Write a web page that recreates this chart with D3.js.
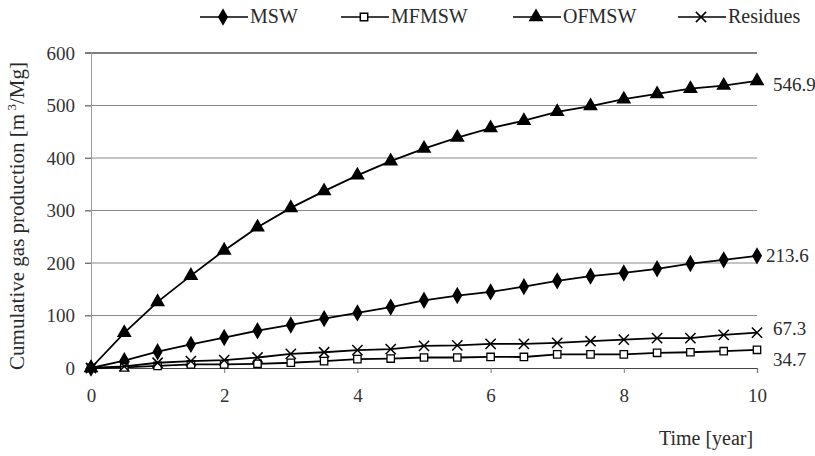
<!DOCTYPE html>
<html>
<head>
<meta charset="utf-8">
<script src="https://cdn.jsdelivr.net/npm/d3@7"></script>
<style>
  body { margin: 0; background: #fff; }
  svg text { font-family: "Liberation Serif", "DejaVu Serif", serif; fill: #2a2a2a; }
</style>
</head>
<body>
<div id="chart"></div>
<script>
// time axis, every half year
var years = [0, 0.5, 1, 1.5, 2, 2.5, 3, 3.5, 4, 4.5, 5, 5.5, 6, 6.5, 7, 7.5, 8, 8.5, 9, 9.5, 10];

// cumulative gas production [m3/Mg]
var msw = [0, 14, 31, 45, 58, 71, 82, 94, 105, 116, 129, 138, 145, 155, 166, 175, 181, 189, 199, 206, 213.6];
var mfmsw = [0, 1, 4, 7, 7, 8, 10, 13, 17, 18, 20, 20, 21, 21, 26, 26, 26, 29, 30, 32, 34.7];
var ofmsw = [0, 67, 126, 176, 224, 268, 305, 337, 367, 394, 418, 439, 457, 471, 488, 499, 512, 522, 532, 538, 546.9];
var residues = [0, 3, 10, 13, 15, 20, 27, 30, 34, 36, 42, 43, 46, 46, 48, 51, 54, 57, 57, 63, 67.3];

var seriesNames = ["MSW", "MFMSW", "OFMSW", "Residues"];
var endLabels = ["213.6", "34.7", "546.9", "67.3"];
var yTicks = [0, 100, 200, 300, 400, 500, 600];
var xTicks = [0, 2, 4, 6, 8, 10];

var series = [
    { name: seriesNames[0], values: msw, symbol: d3.symbolDiamond, size: 60, fill: "#000", label: endLabels[0], dx: 9, dy: 2 },
    { name: seriesNames[1], values: mfmsw, symbol: d3.symbolSquare, size: 55, fill: "#fff", label: endLabels[1], dx: 16, dy: 12 },
    { name: seriesNames[2], values: ofmsw, symbol: d3.symbolTriangle, size: 65, fill: "#000", label: endLabels[2], dx: 16, dy: 6 },
    { name: seriesNames[3], values: residues, symbol: d3.symbolX, size: 70, fill: "none", label: endLabels[3], dx: 16, dy: -2 }
];

var width = 815, height = 456;
var margin = { top: 53, right: 58, bottom: 88, left: 91 };
var w = width - margin.left - margin.right,
    h = height - margin.top - margin.bottom;
var serif = "'Liberation Serif', 'DejaVu Serif', serif";

var xScale = d3.scaleLinear().domain([0, 10]).range([0, w]);
var yScale = d3.scaleLinear().domain([0, 600]).range([h, 0]);

var svg = d3.select("#chart").append("svg")
    .attr("width", width)
    .attr("height", height);

var g = svg.append("g")
    .attr("transform", "translate(" + margin.left + "," + margin.top + ")");

// horizontal gridlines
g.selectAll(".grid")
    .data(yTicks.filter(function (d) { return d > 0; }))
    .enter().append("line")
    .attr("x1", -6).attr("x2", w)
    .attr("y1", function (d) { return yScale(d); })
    .attr("y2", function (d) { return yScale(d); })
    .style("stroke", function (d) { return d === 600 ? "#555" : "#8a8a8a"; })
    .style("stroke-width", function (d) { return d === 600 ? 1.4 : 1; });

// y axis
var yAxis = d3.axisLeft(yScale).tickValues(yTicks).tickSize(6).tickPadding(10);
var yNode = g.append("g").call(yAxis).attr("font-family", serif);
yNode.select(".domain").style("stroke", "#999");
yNode.selectAll(".tick line").style("stroke", "#777");
yNode.selectAll("text").style("font-family", serif).style("font-size", "19px").style("fill", "#333");

// x axis
var xAxis = d3.axisBottom(xScale).tickValues(xTicks).tickSize(5).tickPadding(16);
var xNode = g.append("g").attr("transform", "translate(0," + h + ")").call(xAxis).attr("font-family", serif);
xNode.select(".domain").style("stroke", "#444").style("stroke-width", 1.2);
xNode.selectAll(".tick line").style("stroke", "#777");
xNode.selectAll("text").style("font-family", serif).style("font-size", "19px").style("fill", "#333");

// axis titles
svg.append("text")
    .attr("transform", "translate(24,216) rotate(-90)")
    .attr("text-anchor", "middle")
    .style("font-size", "21px")
    .html('Cumulative gas production [m<tspan dy="-8" font-size="13px"> 3</tspan><tspan dy="8">/Mg]</tspan>');

svg.append("text")
    .attr("x", 706).attr("y", 445)
    .attr("text-anchor", "middle")
    .style("font-size", "20px")
    .text("Time [year]");

var line = d3.line()
    .x(function (d, i) { return xScale(years[i]); })
    .y(function (d) { return yScale(d); });

series.forEach(function (s) {
    g.append("path")
        .attr("d", line(s.values))
        .style("fill", "none")
        .style("stroke", "#000")
        .style("stroke-width", 1.8);

    g.selectAll(null)
        .data(s.values)
        .enter().append("path")
        .attr("transform", function (d, i) { return "translate(" + xScale(years[i]) + "," + yScale(d) + ")"; })
        .attr("d", d3.symbol().type(s.symbol).size(s.size))
        .style("fill", s.fill)
        .style("stroke", "#000")
        .style("stroke-width", s.fill === "#fff" ? 1.3 : 1.5);

    var last = s.values[s.values.length - 1];
    g.append("text")
        .attr("x", xScale(10) + s.dx)
        .attr("y", yScale(last) + s.dy)
        .attr("dominant-baseline", "middle")
        .style("font-size", "19px")
        .text(s.label);
});

// legend
var legendX = [200, 341, 513, 678];
var legend = svg.append("g").attr("transform", "translate(0,17)");
series.forEach(function (s, i) {
    var lg = legend.append("g").attr("transform", "translate(" + legendX[i] + ",0)");
    lg.append("line").attr("x1", 0).attr("x2", 48).attr("y1", 0).attr("y2", 0)
        .style("stroke", "#000").style("stroke-width", 1.7);
    lg.append("path")
        .attr("transform", "translate(23,0)")
        .attr("d", d3.symbol().type(s.symbol).size(s.size))
        .style("fill", s.fill)
        .style("stroke", "#000")
        .style("stroke-width", 1.5);
    lg.append("text")
        .attr("x", 50).attr("y", 1)
        .attr("dominant-baseline", "middle")
        .style("font-size", "20px")
        .text(s.name);
});
</script>
</body>
</html>
